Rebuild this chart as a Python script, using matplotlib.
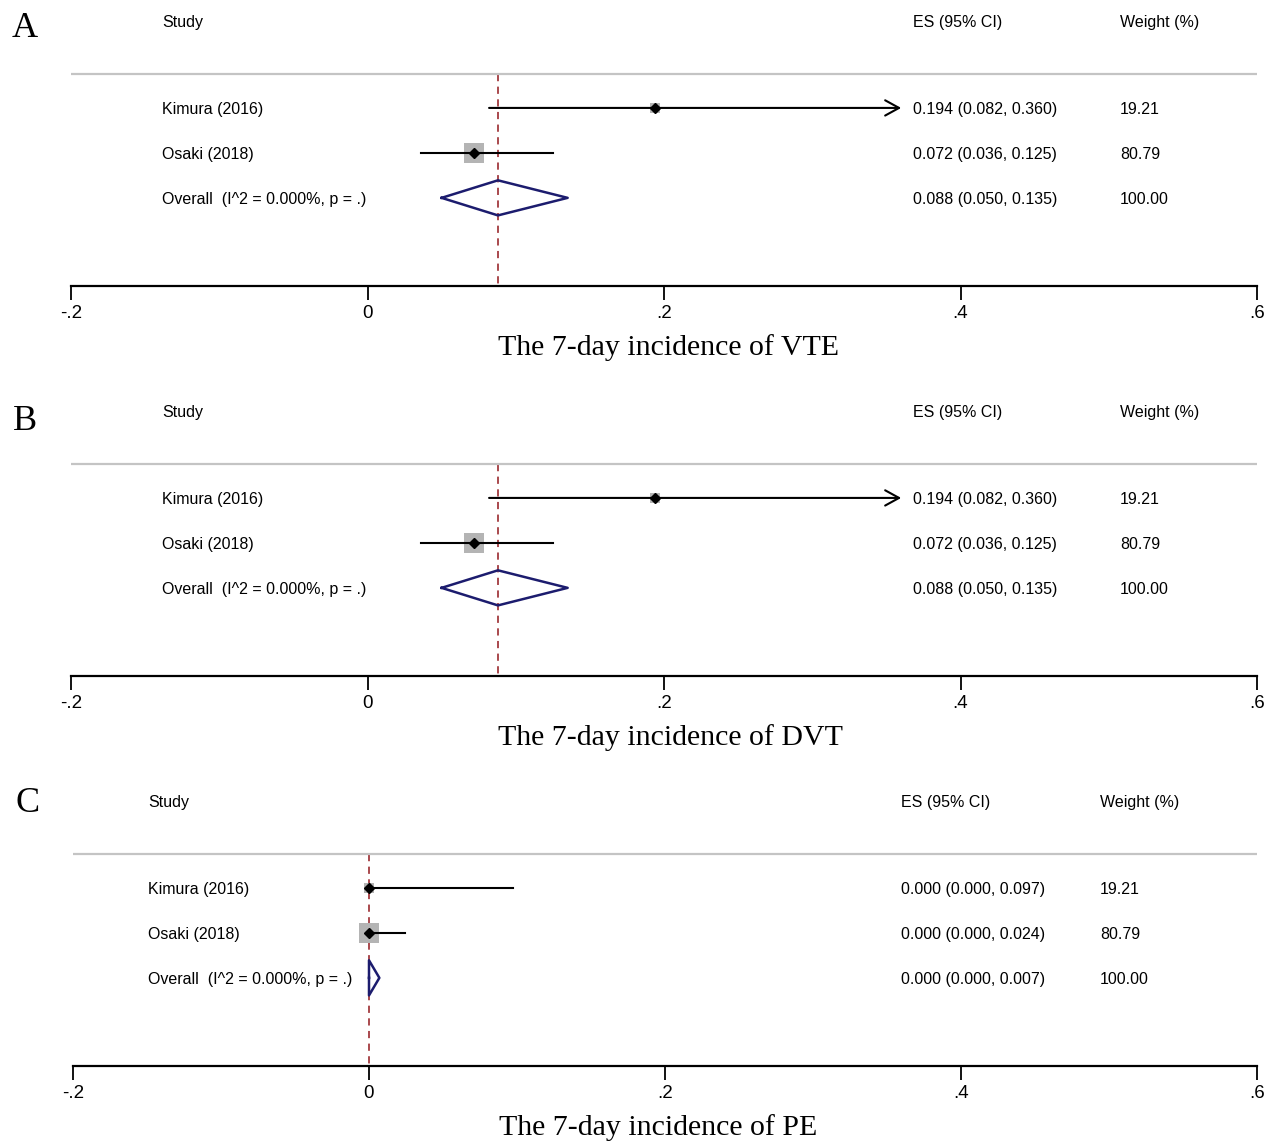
import matplotlib.pyplot as plt
import numpy as np

# data for the three forest plots
studies = ["Kimura (2016)", "Osaki (2018)"]
overall_label = "Overall  (I^2 = 0.000%, p = .)"
weights = [19.21, 80.79]

es_vte = [0.194, 0.072]
lo_vte = [0.082, 0.036]
hi_vte = [0.360, 0.125]
pooled_vte = (0.088, 0.050, 0.135)

es_dvt = [0.194, 0.072]
lo_dvt = [0.082, 0.036]
hi_dvt = [0.360, 0.125]
pooled_dvt = (0.088, 0.050, 0.135)

es_pe = [0.000, 0.000]
lo_pe = [0.000, 0.000]
hi_pe = [0.097, 0.024]
pooled_pe = (0.000, 0.000, 0.007)

xticks = [-0.2, 0, 0.2, 0.4, 0.6]
xtick_labels = ["-.2", "0", ".2", ".4", ".6"]

W, H = 1271, 1142
fig = plt.figure(figsize=(W / 100, H / 100), dpi=100)

SANS = ["Liberation Sans", "DejaVu Sans"]
SERIF = ["Liberation Serif", "DejaVu Serif"]
NARROW = ["Liberation Sans Narrow", "Liberation Sans", "DejaVu Sans"]


def ax_at(left, top, right, bottom):
    # pixel box -> figure fraction
    return fig.add_axes([left / W, 1 - bottom / H, (right - left) / W, (bottom - top) / H])


def fmt(e, l, h):
    return f"{e:.3f} ({l:.3f}, {h:.3f})"


def forest(ax, es, lo, hi, pooled, arrows, cols, letter, letter_y, title):
    ax.set_xlim(-0.2, 0.6)
    ax.set_ylim(4.96, -1.4)
    for s in ["top", "left", "right"]:
        ax.spines[s].set_visible(False)
    ax.spines["bottom"].set_linewidth(1.6)
    ax.set_yticks([])
    ax.set_xticks(xticks)
    ax.set_xticklabels(xtick_labels, family=NARROW, fontsize=13.5)
    ax.tick_params(axis="x", length=10, width=1.3, pad=4)

    # separator
    ax.axhline(0.24, color="#c4c4c4", lw=1.6)
    # pooled estimate reference line
    ax.plot([pooled[0], pooled[0]], [0.24, 4.96], color="#a33a3f", lw=1.3,
            ls=(0, (4, 3)), zorder=1)

    rows = np.arange(1, len(es) + 1)
    side = 2.2 * np.sqrt(weights) * 0.74  # square side in points
    ax.scatter(es, rows, marker="s", s=side ** 2, color="#b4b4b4", lw=0, zorder=2)
    for e, l, h, r, a in zip(es, lo, hi, rows, arrows):
        if a:
            ax.annotate("", xy=(h, r), xytext=(l, r),
                        arrowprops=dict(arrowstyle="->,head_length=1.0,head_width=0.55",
                                        lw=1.5, color="black", shrinkA=0, shrinkB=0),
                        zorder=3)
        else:
            ax.plot([l, h], [r, r], color="black", lw=1.5, zorder=3)
    ax.plot(es, rows, "D", color="black", ms=5.5, zorder=4)

    # pooled diamond
    pr = len(es) + 1
    pe, pl, ph = pooled
    ax.plot([pl, pe, ph, pe, pl], [pr, pr - 0.39, pr, pr + 0.39, pr],
            color="#1c1c6e", lw=1.8, zorder=3)

    xs, xe, xw = cols
    dy = 0.045
    kw = dict(family=SANS, fontsize=11.5, va="center", ha="left")
    ax.text(xs, -0.95 + dy, "Study", **kw)
    ax.text(xe, -0.95 + dy, "ES (95% CI)", **kw)
    ax.text(xw, -0.95 + dy, "Weight (%)", **kw)
    for r, name, e, l, h, w in zip(rows, studies, es, lo, hi, weights):
        ax.text(xs, r + dy, name, **kw)
        ax.text(xe, r + dy, fmt(e, l, h), **kw)
        ax.text(xw, r + dy, f"{w:.2f}", **kw)
    ax.text(xs, pr + dy, overall_label, **kw)
    ax.text(xe, pr + dy, fmt(pe, pl, ph), **kw)
    ax.text(xw, pr + dy, "100.00", **kw)

    ax.set_xlabel(title, family=SERIF, fontsize=21.5, labelpad=6)
    ax.xaxis.set_label_coords((0.088 + 0.2) / 0.8, -0.168)
    ax.xaxis.label.set_ha("left")
    ax.text(-0.2 - 46 / 1482.5, letter_y, letter, family=SERIF, fontsize=26,
            va="center", ha="center", clip_on=False)


axA = ax_at(71, 0, 1257, 286)
forest(axA, es_vte, lo_vte, hi_vte, pooled_vte, [True, False],
       (-0.1386, 0.368, 0.5076), "A", -0.77, "The 7-day incidence of VTE")

axB = ax_at(71, 390, 1257, 676)
forest(axB, es_dvt, lo_dvt, hi_dvt, pooled_dvt, [True, False],
       (-0.1386, 0.368, 0.5076), "B", -0.7, "The 7-day incidence of DVT")

axC = ax_at(73, 780, 1257, 1066)
forest(axC, es_pe, lo_pe, hi_pe, pooled_pe, [False, False],
       (-0.149, 0.3595, 0.494), "C", -0.88, "The 7-day incidence of PE")

fig.savefig("out.png", dpi=100)
